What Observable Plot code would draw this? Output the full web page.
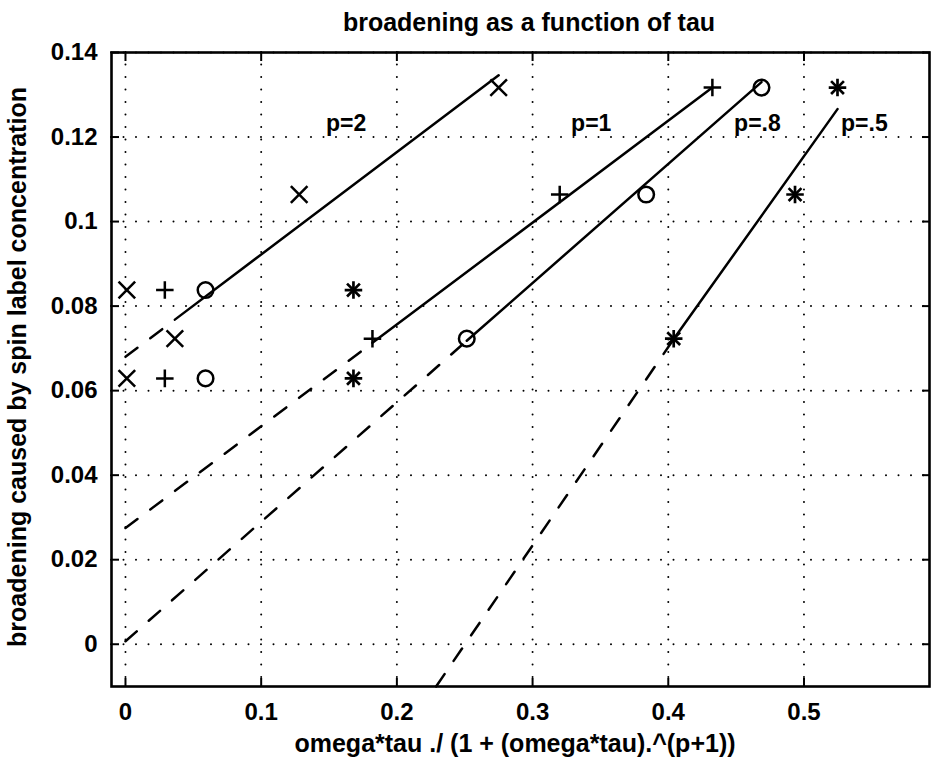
<!DOCTYPE html>
<html>
<head>
<meta charset="utf-8">
<script src="https://cdn.jsdelivr.net/npm/d3@7"></script>
<script src="https://cdn.jsdelivr.net/npm/@observablehq/plot@0.6"></script>
<style>
  html, body { margin: 0; padding: 0; background: #fff; }
  #chart svg { display: block; }
</style>
</head>
<body>
<div id="chart"></div>
<script>
// Texts
const title = "broadening as a function of tau";
const xLabel = "omega*tau ./ (1 + (omega*tau).^(p+1))";
const yLabel = "broadening caused by spin label concentration";

// Axis ticks
const xTicks = [0, 0.1, 0.2, 0.3, 0.4, 0.5];
const xTickLabels = ["0", "0.1", "0.2", "0.3", "0.4", "0.5"];
const yTicks = [0, 0.02, 0.04, 0.06, 0.08, 0.1, 0.12, 0.14];
const yTickLabels = ["0", "0.02", "0.04", "0.06", "0.08", "0.1", "0.12", "0.14"];

// Measured broadening (shared by every p series)
const broadening = [0.0629, 0.0723, 0.0838, 0.1064, 0.1317];
// omega*tau/(1+(omega*tau)^(p+1)) for each p
const xP2  = [0.001, 0.0364, 0.001, 0.128, 0.275];
const xP1  = [0.029, 0.182, 0.029, 0.320, 0.4325];
const xP08 = [0.059, 0.2515, 0.059, 0.3837, 0.4687];
const xP05 = [0.168, 0.404, 0.168, 0.4934, 0.5247];

// Straight-line fits: extrapolated start, start of fitted range, end of fitted range
const fitP2x  = [0, 0.0364, 0.275];      const fitP2y  = [0.068, 0.0768, 0.1346];
const fitP1x  = [0, 0.182, 0.4325];      const fitP1y  = [0.0275, 0.0713, 0.1317];
const fitP08x = [0, 0.2515, 0.4687];     const fitP08y = [0.0007, 0.0718, 0.1330];
const fitP05x = [0.2289, 0.404, 0.5247]; const fitP05y = [-0.01, 0.0722, 0.1266];

// Curve labels
const curveLabels = ["p=2", "p=1", "p=.8", "p=.5"];
const labelX = [0.1478, 0.3284, 0.4485, 0.5273];
const labelY = [0.1232, 0.1232, 0.1232, 0.1232];

const pts = xs => xs.map((x, i) => ({x, y: broadening[i]}));
const fits = [[fitP2x, fitP2y], [fitP1x, fitP1y], [fitP08x, fitP08y], [fitP05x, fitP05y]];
const dashed = fits.flatMap(([fx, fy], k) => [0, 1].map(j => ({x: fx[j], y: fy[j], k})));
const solid  = fits.flatMap(([fx, fy], k) => [1, 2].map(j => ({x: fx[j], y: fy[j], k})));

const font = "'Liberation Sans', Arial, Helvetica, sans-serif";
const ink = "black";

const chart = Plot.plot({
  width: 933,
  height: 757,
  marginLeft: 111,
  marginRight: 4,
  marginTop: 52,
  marginBottom: 71,
  style: {fontFamily: font, fontSize: "24px", fontWeight: "bold", color: ink, background: "white"},
  x: {domain: [-0.0103, 0.5925]},
  y: {domain: [-0.01, 0.14]},
  marks: [
    Plot.gridX(xTicks, {stroke: ink, strokeOpacity: 1, strokeWidth: 2, strokeDasharray: "0,12.5", strokeLinecap: "round"}),
    Plot.gridY(yTicks, {stroke: ink, strokeOpacity: 1, strokeWidth: 2, strokeDasharray: "0,12.5", strokeLinecap: "round"}),
    Plot.frame({stroke: ink, strokeWidth: 2.6}),
    // inward tick marks on all four sides (no text)
    Plot.axisX(xTicks, {anchor: "bottom", tickSize: -8, strokeWidth: 2, fill: "none", label: null}),
    Plot.axisX(xTicks, {anchor: "top", tickSize: -8, strokeWidth: 2, fill: "none", label: null}),
    Plot.axisY(yTicks, {anchor: "left", tickSize: -8, strokeWidth: 2, fill: "none", label: null}),
    Plot.axisY(yTicks, {anchor: "right", tickSize: -8, strokeWidth: 2, fill: "none", label: null}),
    // tick labels
    Plot.axisX(xTicks, {anchor: "bottom", tickSize: 0, tickPadding: 16, tickFormat: d => xTickLabels[xTicks.indexOf(d)], label: null}),
    Plot.axisY(yTicks, {anchor: "left", tickSize: 0, tickPadding: 14, tickFormat: d => yTickLabels[yTicks.indexOf(d)], label: null}),
    // fitted lines
    Plot.line(dashed, {x: "x", y: "y", z: "k", stroke: ink, strokeWidth: 2.5, strokeDasharray: "15,16"}),
    Plot.line(solid, {x: "x", y: "y", z: "k", stroke: ink, strokeWidth: 2.5}),
    // data points
    Plot.dot(pts(xP2), {x: "x", y: "y", symbol: "times", r: 7.6, stroke: ink, strokeWidth: 2.5}),
    Plot.dot(pts(xP1), {x: "x", y: "y", symbol: "plus", r: 5.7, stroke: ink, strokeWidth: 2.5}),
    Plot.dot(pts(xP08), {x: "x", y: "y", symbol: "circle", r: 7.8, stroke: ink, fill: "none", strokeWidth: 2.5}),
    Plot.dot(pts(xP05), {x: "x", y: "y", symbol: "plus", r: 5.7, stroke: ink, strokeWidth: 2.7}),
    Plot.dot(pts(xP05), {x: "x", y: "y", symbol: "times", r: 5.9, stroke: ink, strokeWidth: 2.7}),
    // curve labels
    Plot.text(curveLabels, {x: (d, i) => labelX[i], y: (d, i) => labelY[i], text: d => d, textAnchor: "start", lineAnchor: "middle", fontSize: 23, fontWeight: "bold", fill: ink}),
    // title and axis titles
    Plot.text([title], {frameAnchor: "top", textAnchor: "middle", lineAnchor: "middle", dx: 8.5, dy: -30, text: d => d, fontSize: 25, fontWeight: "bold", fill: ink}),
    Plot.text([xLabel], {frameAnchor: "bottom", textAnchor: "middle", lineAnchor: "middle", dx: -5.5, dy: 57, text: d => d, fontSize: 25, fontWeight: "bold", fill: ink}),
    Plot.text([yLabel], {frameAnchor: "left", textAnchor: "middle", lineAnchor: "middle", dx: -94, dy: -2.5, rotate: -90, text: d => d, fontSize: 25, fontWeight: "bold", fill: ink})
  ]
});

document.getElementById("chart").appendChild(chart);
</script>
</body>
</html>
